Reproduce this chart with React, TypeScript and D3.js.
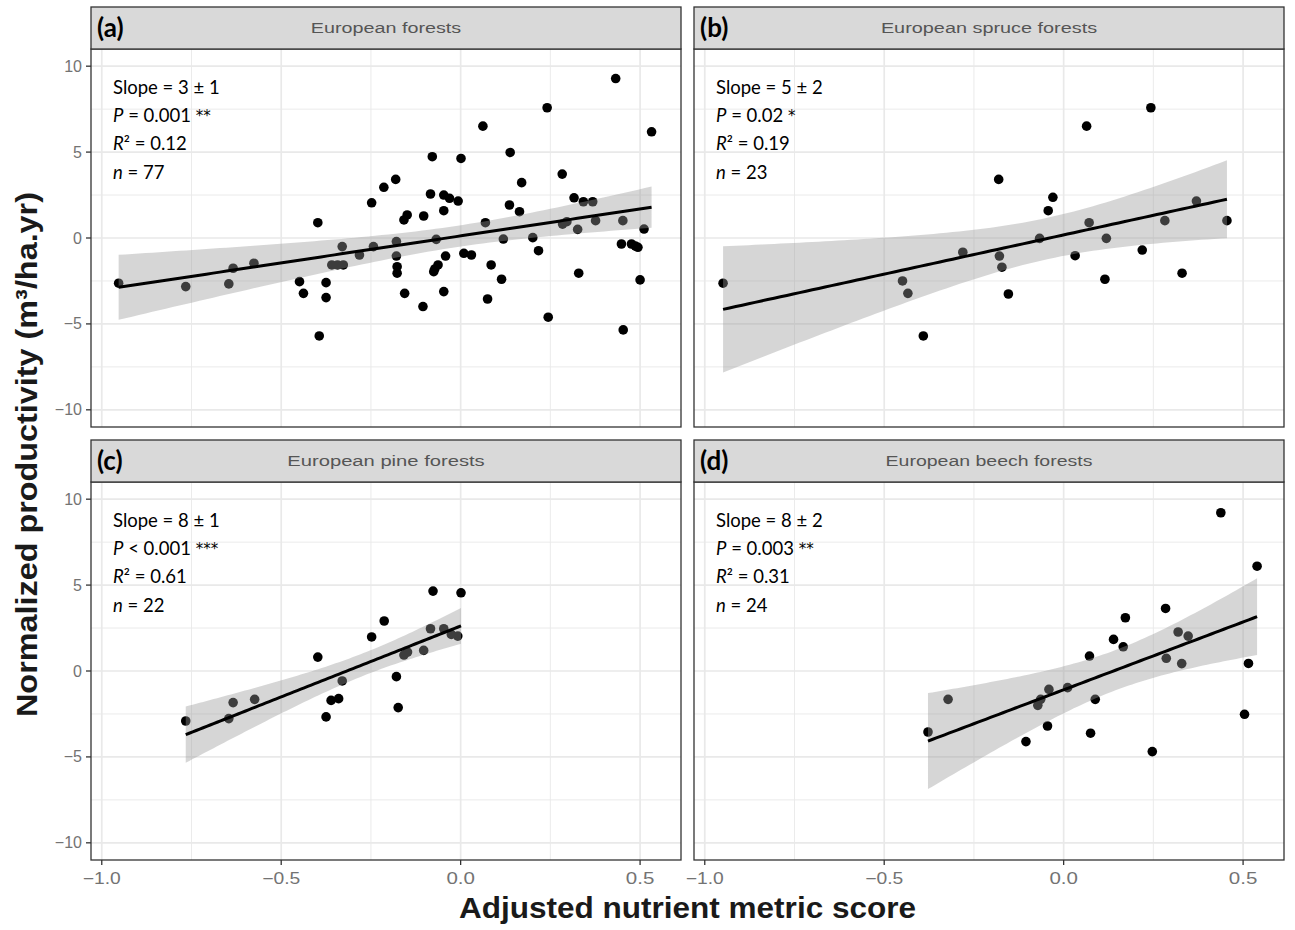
import React from 'react';
import * as d3 from 'd3';

// ---------------- data ----------------
const xTicks = [-1.0, -0.5, 0.0, 0.5];
const xMinorTicks = [-0.75, -0.25, 0.25];
const yTicks = [-10, -5, 0, 5, 10];
const yMinorTicks = [-7.5, -2.5, 2.5, 7.5];

const panelTitles = ['European forests', 'European spruce forests', 'European pine forests', 'European beech forests'];
const panelLetters = ['(a)', '(b)', '(c)', '(d)'];
const slopeLabels = ['3 ± 1', '5 ± 2', '8 ± 1', '8 ± 2'];
const pLabels = [' = 0.001 ', ' = 0.02 ', ' < 0.001 ', ' = 0.003 '];
const starLabels = ['**', '*', '***', '**'];
const r2Labels = ['0.12', '0.19', '0.61', '0.31'];

const forestsX = [-0.953, -0.766, -0.646, -0.634, -0.576, -0.449, -0.438, -0.398, -0.394, -0.375,
  -0.375, -0.359, -0.343, -0.327, -0.330, -0.282, -0.248, -0.243, -0.214, -0.181,
  -0.179, -0.179, -0.177, -0.177, -0.156, -0.158, -0.149, -0.103, -0.105, -0.079,
  -0.084, -0.068, -0.075, -0.063, -0.042, -0.047, -0.047, -0.047, -0.031, -0.007,
  0.001, 0.009, 0.030, 0.062, 0.069, 0.085, 0.075, 0.114, 0.119, 0.138,
  0.136, 0.164, 0.170, 0.201, 0.217, 0.241, 0.244, 0.283, 0.284, 0.316,
  0.326, 0.329, 0.342, 0.368, 0.376, 0.432, 0.448, 0.452, 0.453, 0.476,
  0.487, 0.494, 0.500, 0.511, 0.532, 0.296, -0.072];
const forestsY = [-2.63, -2.83, -2.67, -1.76, -1.47, -2.54, -3.22, 0.89, -5.70, -2.60,
  -3.47, -1.57, -1.57, -1.57, -0.50, -0.99, 2.05, -0.50, 2.95, 3.41,
  -0.21, -1.05, -1.67, -2.05, -3.22, 1.05, 1.34, 1.28, -3.99, 4.73,
  2.56, -0.08, -1.96, -1.57, -1.05, 1.59, -3.12, 2.50, 2.31, 2.15,
  4.63, -0.89, -0.99, 6.51, 0.89, -1.57, -3.55, -2.40, -0.06, 4.98,
  1.92, 1.53, 3.22, 0.02, -0.74, 7.58, -4.61, 3.72, 0.81, 2.34,
  0.50, -2.05, 2.11, 2.11, 1.01, 9.28, -0.35, 1.01, -5.35, -0.35,
  -0.47, -0.54, -2.44, 0.52, 6.18, 0.95, -1.80];

const spruceX = [-0.949, -0.449, -0.434, -0.391, -0.281, -0.181, -0.179, -0.172, -0.154, -0.067,
  -0.043, -0.030, 0.032, 0.064, 0.071, 0.115, 0.119, 0.219, 0.243, 0.282,
  0.330, 0.370, 0.455];
const spruceY = [-2.63, -2.50, -3.22, -5.70, -0.83, 3.41, -1.05, -1.70, -3.26, -0.02,
  1.59, 2.37, -1.03, 6.51, 0.89, -2.40, -0.02, -0.70, 7.58, 1.01,
  -2.05, 2.15, 1.01];

const pineX = [-0.766, -0.646, -0.634, -0.574, -0.398, -0.375, -0.361, -0.340, -0.330, -0.248,
  -0.213, -0.179, -0.174, -0.158, -0.148, -0.103, -0.084, -0.077, -0.047, -0.026,
  -0.008, 0.001];
const pineY = [-2.91, -2.77, -1.84, -1.65, 0.81, -2.67, -1.71, -1.61, -0.58, 1.98,
  2.91, -0.33, -2.13, 0.93, 1.10, 1.20, 2.46, 4.65, 2.46, 2.13,
  2.03, 4.55];

const beechX = [-0.378, -0.322, -0.105, -0.072, -0.064, -0.045, -0.041, 0.011, 0.072, 0.075,
  0.088, 0.139, 0.166, 0.172, 0.247, 0.284, 0.286, 0.319, 0.329, 0.347,
  0.438, 0.504, 0.515, 0.539];
const beechY = [-3.55, -1.65, -4.11, -2.00, -1.65, -3.20, -1.07, -0.97, 0.87, -3.62,
  -1.65, 1.84, 1.41, 3.10, -4.69, 3.64, 0.74, 2.27, 0.43, 2.03,
  9.21, -2.52, 0.44, 6.10];

const seriesX = [forestsX, spruceX, pineX, beechX];
const seriesY = [forestsY, spruceY, pineY, beechY];

// ---------------- helpers ----------------
function tQuantile975(df: number) {
  const z = 1.959964;
  const z3 = z ** 3, z5 = z ** 5, z7 = z ** 7;
  return z + (z3 + z) / (4 * df) + (5 * z5 + 16 * z3 + 3 * z) / (96 * df * df)
    + (3 * z7 + 19 * z5 + 17 * z3 - 15 * z) / (384 * df ** 3);
}

function lmFit(xs: number[], ys: number[]) {
  const n = xs.length;
  const mx = d3.mean(xs) as number;
  const my = d3.mean(ys) as number;
  let sxx = 0, sxy = 0;
  for (let i = 0; i < n; i++) { sxx += (xs[i] - mx) ** 2; sxy += (xs[i] - mx) * (ys[i] - my); }
  const b = sxy / sxx;
  const a = my - b * mx;
  let sse = 0;
  for (let i = 0; i < n; i++) sse += (ys[i] - a - b * xs[i]) ** 2;
  const s = Math.sqrt(sse / (n - 2));
  const t = tQuantile975(n - 2);
  const [x0, x1] = d3.extent(xs) as [number, number];
  return d3.range(80).map(i => {
    const x = x0 + (x1 - x0) * i / 79;
    const y = a + b * x;
    const se = s * Math.sqrt(1 / n + (x - mx) ** 2 / sxx);
    return { x, y, lo: y - t * se, hi: y + t * se };
  });
}

// ---------------- layout ----------------
const W = 1295, H = 930;
const colLeft = [91, 694];
const panelW = 590;
const stripTop = [7, 440];
const stripH = 42;
const plotH = 378;
const xDomain: [number, number] = [-1.03, 0.614];
const yDomain: [number, number] = [-11, 11];

const gridColor = '#e9e9e9';
const borderColor = '#333333';
const tickTextColor = '#737373';

function Panel({ idx }: { idx: number }) {
  const col = idx % 2, row = Math.floor(idx / 2);
  const left = colLeft[col];
  const sTop = stripTop[row];
  const top = sTop + stripH;
  const bottom = top + plotH;
  const right = left + panelW;
  const x = d3.scaleLinear().domain(xDomain).range([left, right]);
  const y = d3.scaleLinear().domain(yDomain).range([bottom, top]);
  const xs = seriesX[idx], ys = seriesY[idx];
  const fit = lmFit(xs, ys);
  const area = d3.area<any>().x(d => x(d.x)).y0(d => y(d.lo)).y1(d => y(d.hi));
  const line = d3.line<any>().x(d => x(d.x)).y(d => y(d.y));
  const clipId = `clip-${idx}`;
  const tx = left + 22;
  const ty0 = top + 45;
  const dy = 28.2;
  return (
    <g>
      <defs>
        <clipPath id={clipId}><rect x={left} y={top} width={panelW} height={plotH} /></clipPath>
      </defs>
      <rect x={left} y={top} width={panelW} height={plotH} fill="#ffffff" />
      {/* grid */}
      {yMinorTicks.map(v => <line key={'ym' + v} x1={left} x2={right} y1={y(v)} y2={y(v)} stroke={gridColor} strokeWidth={0.9} />)}
      {xMinorTicks.map(v => <line key={'xm' + v} x1={x(v)} x2={x(v)} y1={top} y2={bottom} stroke={gridColor} strokeWidth={0.9} />)}
      {yTicks.map(v => <line key={'y' + v} x1={left} x2={right} y1={y(v)} y2={y(v)} stroke={gridColor} strokeWidth={1.7} />)}
      {xTicks.map(v => <line key={'x' + v} x1={x(v)} x2={x(v)} y1={top} y2={bottom} stroke={gridColor} strokeWidth={1.7} />)}
      {/* points, ribbon, line */}
      <g clipPath={`url(#${clipId})`}>
        {xs.map((v, i) => <circle key={i} cx={x(v)} cy={y(ys[i])} r={4.8} fill="#000" />)}
        <path d={area(fit) as string} fill="#999999" fillOpacity={0.4} />
        <path d={line(fit) as string} fill="none" stroke="#000" strokeWidth={3} />
      </g>
      {/* border */}
      <rect x={left} y={top} width={panelW} height={plotH} fill="none" stroke={borderColor} strokeWidth={1.3} />
      {/* strip */}
      <rect x={left} y={sTop} width={panelW} height={stripH} fill="#d9d9d9" stroke={borderColor} strokeWidth={1.3} />
      <text x={(left + right) / 2} y={sTop + 26} textAnchor="middle" fontFamily="'Liberation Sans', Arial, sans-serif"
        fontSize={14} fill="#555" textLength={panelTitles[idx].length * 9.4} lengthAdjust="spacingAndGlyphs">{panelTitles[idx]}</text>
      <text x={left + 6} y={sTop + 30} fontFamily="Lato, sans-serif" fontWeight="bold" fontSize={26} fill="#000">{panelLetters[idx]}</text>
      {/* stats */}
      <g fontFamily="Lato, sans-serif" fontSize={18.5} fill="#000">
        <text x={tx} y={ty0}>Slope = {slopeLabels[idx]}</text>
        <text x={tx} y={ty0 + dy}><tspan fontStyle="italic">P</tspan>{pLabels[idx]}<tspan fontFamily="'DejaVu Sans', sans-serif" fontSize={15} dy={-1}>{starLabels[idx]}</tspan></text>
        <text x={tx} y={ty0 + 2 * dy}><tspan fontStyle="italic">R</tspan>² = {r2Labels[idx]}</text>
        <text x={tx} y={ty0 + 3 * dy}><tspan fontStyle="italic">n</tspan> = {xs.length}</text>
      </g>
      {/* y axis */}
      {col === 0 && yTicks.map(v => (
        <g key={'yt' + v}>
          <line x1={left - 5} x2={left} y1={y(v)} y2={y(v)} stroke={borderColor} strokeWidth={1.3} />
          <text x={left - 9} y={y(v) + 5.5} textAnchor="end" fontFamily="'Liberation Sans', Arial, sans-serif" fontSize={16} fill={tickTextColor}>
            {v < 0 ? '\u2212' + Math.abs(v) : String(v)}
          </text>
        </g>
      ))}
      {/* x axis */}
      {row === 1 && xTicks.map(v => {
        const lab = (v < 0 ? '\u2212' : '') + Math.abs(v).toFixed(1);
        return (
          <g key={'xt' + v}>
            <line x1={x(v)} x2={x(v)} y1={bottom} y2={bottom + 5} stroke={borderColor} strokeWidth={1.3} />
            <text x={x(v)} y={bottom + 24} textAnchor="middle" fontFamily="'Liberation Sans', Arial, sans-serif" fontSize={16}
              fill={tickTextColor} textLength={lab.length * 9.5} lengthAdjust="spacingAndGlyphs">{lab}</text>
          </g>
        );
      })}
    </g>
  );
}

export default function App() {
  const plotTop = stripTop[0];
  const plotBottom = stripTop[1] + stripH + plotH;
  const cx = (colLeft[0] + colLeft[1] + panelW) / 2;
  const cy = (plotTop + stripH + plotBottom) / 2;
  return (
    <svg width={W} height={H} style={{ position: 'absolute', left: 0, top: 0, background: '#fff' }}>
      <rect x={0} y={0} width={W} height={H} fill="#fff" />
      {[0, 1, 2, 3].map(i => <Panel key={i} idx={i} />)}
      <text x={cx} y={918} textAnchor="middle" fontFamily="'Liberation Sans Narrow', 'Liberation Sans', Arial, sans-serif"
        fontWeight="bold" fontSize={30} fill="#1a1a1a" textLength={457} lengthAdjust="spacingAndGlyphs">Adjusted nutrient metric score</text>
      <text transform={`translate(37,${cy}) rotate(-90)`} textAnchor="middle"
        fontFamily="'Liberation Sans Narrow', 'Liberation Sans', Arial, sans-serif" fontWeight="bold" fontSize={30} fill="#1a1a1a"
        textLength={525} lengthAdjust="spacingAndGlyphs">Normalized productivity (m³/ha.yr)</text>
    </svg>
  );
}
